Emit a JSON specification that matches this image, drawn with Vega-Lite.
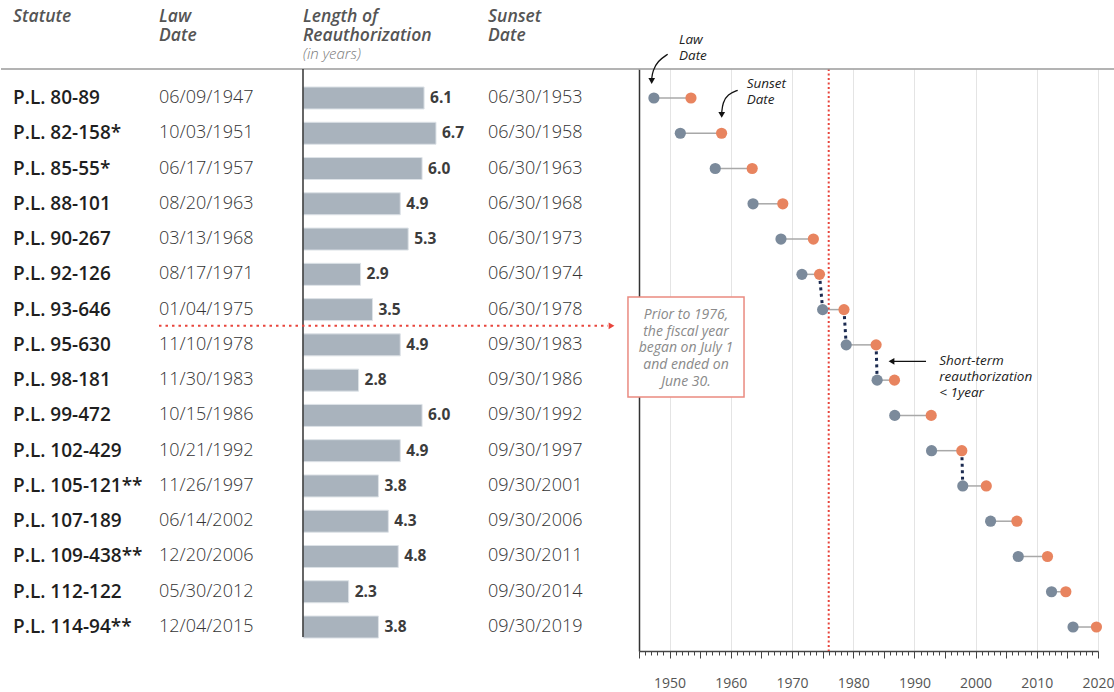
{
  "$schema": "https://vega.github.io/schema/vega-lite/v6.json",
  "padding": {"left": 0, "right": 0, "top": 8, "bottom": 0},
  "spacing": 0,
  "bounds": "flush",
  "config": {
    "view": {"stroke": null},
    "font": "Open Sans",
    "title": {"anchor": "start", "frame": "group", "fontSize": 17.5, "fontStyle": "italic", "fontWeight": 600, "color": "#555555", "lineHeight": 18.5, "offset": 6, "subtitleFontSize": 15, "subtitleFontStyle": "italic", "subtitleFontWeight": 300, "subtitleColor": "#7a7a7a", "subtitlePadding": 3, "font": "Open Sans", "subtitleFont": "Open Sans"}
  },
  "data": {
    "values": [
      {"row": 1, "statute": "P.L. 80-89", "law": "1947-06-09", "lawText": "06/09/1947", "len": 6.1, "sunset": "1953-06-30", "sunsetText": "06/30/1953"},
      {"row": 2, "statute": "P.L. 82-158*", "law": "1951-10-03", "lawText": "10/03/1951", "len": 6.7, "sunset": "1958-06-30", "sunsetText": "06/30/1958"},
      {"row": 3, "statute": "P.L. 85-55*", "law": "1957-06-17", "lawText": "06/17/1957", "len": 6.0, "sunset": "1963-06-30", "sunsetText": "06/30/1963"},
      {"row": 4, "statute": "P.L. 88-101", "law": "1963-08-20", "lawText": "08/20/1963", "len": 4.9, "sunset": "1968-06-30", "sunsetText": "06/30/1968"},
      {"row": 5, "statute": "P.L. 90-267", "law": "1968-03-13", "lawText": "03/13/1968", "len": 5.3, "sunset": "1973-06-30", "sunsetText": "06/30/1973"},
      {"row": 6, "statute": "P.L. 92-126", "law": "1971-08-17", "lawText": "08/17/1971", "len": 2.9, "sunset": "1974-06-30", "sunsetText": "06/30/1974"},
      {"row": 7, "statute": "P.L. 93-646", "law": "1975-01-04", "lawText": "01/04/1975", "len": 3.5, "sunset": "1978-06-30", "sunsetText": "06/30/1978"},
      {"row": 8, "statute": "P.L. 95-630", "law": "1978-11-10", "lawText": "11/10/1978", "len": 4.9, "sunset": "1983-09-30", "sunsetText": "09/30/1983"},
      {"row": 9, "statute": "P.L. 98-181", "law": "1983-11-30", "lawText": "11/30/1983", "len": 2.8, "sunset": "1986-09-30", "sunsetText": "09/30/1986"},
      {"row": 10, "statute": "P.L. 99-472", "law": "1986-10-15", "lawText": "10/15/1986", "len": 6.0, "sunset": "1992-09-30", "sunsetText": "09/30/1992"},
      {"row": 11, "statute": "P.L. 102-429", "law": "1992-10-21", "lawText": "10/21/1992", "len": 4.9, "sunset": "1997-09-30", "sunsetText": "09/30/1997"},
      {"row": 12, "statute": "P.L. 105-121**", "law": "1997-11-26", "lawText": "11/26/1997", "len": 3.8, "sunset": "2001-09-30", "sunsetText": "09/30/2001"},
      {"row": 13, "statute": "P.L. 107-189", "law": "2002-06-14", "lawText": "06/14/2002", "len": 4.3, "sunset": "2006-09-30", "sunsetText": "09/30/2006"},
      {"row": 14, "statute": "P.L. 109-438**", "law": "2006-12-20", "lawText": "12/20/2006", "len": 4.8, "sunset": "2011-09-30", "sunsetText": "09/30/2011"},
      {"row": 15, "statute": "P.L. 112-122", "law": "2012-05-30", "lawText": "05/30/2012", "len": 2.3, "sunset": "2014-09-30", "sunsetText": "09/30/2014"},
      {"row": 16, "statute": "P.L. 114-94**", "law": "2015-12-04", "lawText": "12/04/2015", "len": 3.8, "sunset": "2019-09-30", "sunsetText": "09/30/2019"}
    ],
    "format": {"parse": {"law": "date", "sunset": "date"}}
  },
  "hconcat": [
    {
      "width": 158, "height": 582,
      "title": {"text": ["Statute", " "], "subtitle": " ", "dx": 12},
      "layer": [
        {"data": {"values": [{}]}, "mark": {"type": "rule", "color": "#9a9a9a", "strokeWidth": 1.5},
         "encoding": {"y": {"datum": 0.178, "type": "quantitative", "scale": {"domain": [0.178, 16.68], "reverse": true, "nice": false, "zero": false, "padding": 0}, "axis": null}}},
        {"mark": {"type": "text", "align": "left", "baseline": "middle", "dx": 12, "fontSize": 19, "fontWeight": 600, "color": "#1f1f1f"},
         "encoding": {"x": {"value": 0}, "y": {"field": "row", "type": "quantitative", "scale": {"domain": [0.178, 16.68], "reverse": true, "nice": false, "zero": false, "padding": 0}, "axis": null}, "text": {"field": "statute", "type": "nominal"}}}
      ]
    },
    {
      "width": 144, "height": 582,
      "title": {"text": ["Law", "Date"], "subtitle": " "},
      "layer": [
        {"data": {"values": [{}]}, "mark": {"type": "rule", "color": "#9a9a9a", "strokeWidth": 1.5},
         "encoding": {"y": {"datum": 0.178, "type": "quantitative", "scale": {"domain": [0.178, 16.68], "reverse": true, "nice": false, "zero": false, "padding": 0}, "axis": null}}},
        {"mark": {"type": "text", "align": "left", "baseline": "middle", "fontSize": 18, "fontWeight": 300, "color": "#333333"},
         "encoding": {"x": {"value": 0}, "y": {"field": "row", "type": "quantitative", "scale": {"domain": [0.178, 16.68], "reverse": true, "nice": false, "zero": false, "padding": 0}, "axis": null}, "text": {"field": "lawText", "type": "nominal"}}}
      ]
    },
    {
      "width": 185, "height": 582,
      "title": {"text": ["Length of", "Reauthorization"], "subtitle": "(in years)"},
      "layer": [
        {"data": {"values": [{}]}, "mark": {"type": "rule", "color": "#9a9a9a", "strokeWidth": 1.5},
         "encoding": {"y": {"datum": 0.178, "type": "quantitative", "scale": {"domain": [0.178, 16.68], "reverse": true, "nice": false, "zero": false, "padding": 0}, "axis": null}}},
        {"mark": {"type": "bar", "orient": "horizontal", "height": 22, "color": "#a9b3bd", "stroke": "#dde2e7", "strokeWidth": 1},
         "encoding": {"x": {"field": "len", "type": "quantitative", "scale": {"domain": [0, 9.32], "nice": false, "zero": true, "padding": 0}, "axis": null}, "y": {"field": "row", "type": "quantitative", "scale": {"domain": [0.178, 16.68], "reverse": true, "nice": false, "zero": false, "padding": 0}, "axis": null}}},
        {"mark": {"type": "text", "align": "left", "baseline": "middle", "dx": 6, "fontSize": 15.5, "fontWeight": "bold", "color": "#3c3c3c"},
         "encoding": {"x": {"field": "len", "type": "quantitative"}, "y": {"field": "row", "type": "quantitative"}, "text": {"field": "len", "type": "quantitative", "format": ".1f"}}},
        {"data": {"values": [{}]}, "mark": {"type": "rule", "color": "#333333", "strokeWidth": 1.5},
         "encoding": {"x": {"datum": 0, "type": "quantitative"}, "y": {"datum": 0.178, "type": "quantitative"}, "y2": {"datum": 16.28}}}
      ]
    },
    {
      "width": 151, "height": 582,
      "title": {"text": ["Sunset", "Date"], "subtitle": " "},
      "layer": [
        {"data": {"values": [{}]}, "mark": {"type": "rule", "color": "#9a9a9a", "strokeWidth": 1.5},
         "encoding": {"y": {"datum": 0.178, "type": "quantitative", "scale": {"domain": [0.178, 16.68], "reverse": true, "nice": false, "zero": false, "padding": 0}, "axis": null}}},
        {"mark": {"type": "text", "align": "left", "baseline": "middle", "fontSize": 18, "fontWeight": 300, "color": "#333333"},
         "encoding": {"x": {"value": 0}, "y": {"field": "row", "type": "quantitative", "scale": {"domain": [0.178, 16.68], "reverse": true, "nice": false, "zero": false, "padding": 0}, "axis": null}, "text": {"field": "sunsetText", "type": "nominal"}}}
      ]
    },
    {
      "width": 459, "height": 582,
      "layer": [
        {"mark": {"type": "rule", "color": "#a8a8a8", "strokeWidth": 1.5},
         "encoding": {
           "x": {"field": "law", "type": "temporal",
                 "scale": {"type": "utc", "domain": [{"year": 1945, "utc": true}, {"year": 2020, "utc": true}], "nice": false, "padding": 0},
                 "axis": {"title": null, "domainColor": "#444444", "domainWidth": 1.5, "tickColor": "#444444", "tickWidth": 1,
                          "tickCount": {"interval": "year", "step": 1},
                          "tickSize": {"condition": {"test": "utcyear(datum.value) % 5 === 0", "value": 7}, "value": 4},
                          "labelExpr": "utcyear(datum.value) % 10 === 0 ? utcFormat(datum.value, '%Y') : ''",
                          "labelOverlap": false, "labelFlush": false, "labelFontSize": 14, "labelColor": "#555555", "labelPadding": 18, "labelFont": "Open Sans",
                          "grid": true, "gridColor": "#e4e4e4", "gridWidth": 1,
                          "gridOpacity": {"condition": {"test": "utcyear(datum.value) % 10 === 0 && utcyear(datum.value) > 1945", "value": 1}, "value": 0}}},
           "x2": {"field": "sunset"},
           "y": {"field": "row", "type": "quantitative", "scale": {"domain": [0.178, 16.68], "reverse": true, "nice": false, "zero": false, "padding": 0},
                 "axis": {"title": null, "domain": true, "domainColor": "#333333", "domainWidth": 1.5, "ticks": false, "labels": false, "grid": false}}
         }},
        {"data": {"values": [{}]}, "mark": {"type": "rule", "color": "#e8453c", "strokeWidth": 2, "strokeDash": [2, 2.5]},
         "encoding": {"x": {"datum": {"year": 1976, "utc": true}, "type": "temporal"}}},
        {"data": {"values": [
            {"t1": "1974-06-30", "r1": 6, "t2": "1975-01-04", "r2": 7},
            {"t1": "1978-06-30", "r1": 7, "t2": "1978-11-10", "r2": 8},
            {"t1": "1983-09-30", "r1": 8, "t2": "1983-11-30", "r2": 9},
            {"t1": "1997-09-30", "r1": 11, "t2": "1997-11-26", "r2": 12}
          ], "format": {"parse": {"t1": "date", "t2": "date"}}},
         "mark": {"type": "rule", "color": "#1b2a50", "strokeWidth": 3, "strokeDash": [3, 3.5], "strokeCap": "butt"},
         "encoding": {"x": {"field": "t1", "type": "temporal"}, "x2": {"field": "t2"}, "y": {"field": "r1", "type": "quantitative"}, "y2": {"field": "r2"}}},
        {"mark": {"type": "point", "filled": true, "size": 125, "opacity": 1, "color": "#7b8a9b"},
         "encoding": {"x": {"field": "law", "type": "temporal"}, "y": {"field": "row", "type": "quantitative"}}},
        {"mark": {"type": "point", "filled": true, "size": 125, "opacity": 1, "color": "#e8845f"},
         "encoding": {"x": {"field": "sunset", "type": "temporal"}, "y": {"field": "row", "type": "quantitative"}}},
        {"data": {"values": [{}]}, "mark": {"type": "rule", "color": "#9a9a9a", "strokeWidth": 1.5},
         "encoding": {"x": {"datum": {"year": 1945, "utc": true}, "type": "temporal"}, "x2": {"datum": {"year": 2022, "month": 10, "date": 12, "utc": true}}, "y": {"datum": 0.178, "type": "quantitative"}}},
        {"data": {"values": [{"t1": "1943-03-15", "t2": "1962-03-01", "r1": 6.64, "r2": 9.48}], "format": {"parse": {"t1": "date", "t2": "date"}}},
         "mark": {"type": "rect", "fill": "#ffffff", "stroke": "#ea8a80", "strokeWidth": 1.5},
         "encoding": {"x": {"field": "t1", "type": "temporal"}, "x2": {"field": "t2"}, "y": {"field": "r1", "type": "quantitative"}, "y2": {"field": "r2"}}},
        {"data": {"values": [{"t": "1952-09-05", "r": 7.153, "label": "Prior to 1976,\nthe fiscal year\nbegan on July 1\nand ended on\nJune 30."}], "format": {"parse": {"t": "date"}}},
         "mark": {"type": "text", "align": "center", "baseline": "middle", "lineBreak": "\n", "lineHeight": 16.75, "fontSize": 14, "fontStyle": "italic", "fontWeight": "normal", "color": "#8a8a8a"},
         "encoding": {"x": {"field": "t", "type": "temporal"}, "y": {"field": "r", "type": "quantitative"}, "text": {"field": "label", "type": "nominal"}}},
        {"data": {"values": [
            {"t": "1951-07-15", "r": -0.644, "label": "Law\nDate"},
            {"t": "1962-08-07", "r": 0.603, "label": "Sunset\nDate"},
            {"t": "1994-01-25", "r": 8.457, "label": "Short-term\nreauthorization\n<  1year"}
          ], "format": {"parse": {"t": "date"}}},
         "mark": {"type": "text", "align": "left", "baseline": "middle", "lineBreak": "\n", "lineHeight": 16, "fontSize": 13.5, "fontStyle": "italic", "color": "#222222"},
         "encoding": {"x": {"field": "t", "type": "temporal"}, "y": {"field": "r", "type": "quantitative"}, "text": {"field": "label", "type": "nominal"}}},
        {"data": {"values": [
            {"id": "law", "o": 1, "t": "1949-09-09", "r": -0.239},
            {"id": "law", "o": 2, "t": "1948-01-23", "r": -0.049},
            {"id": "law", "o": 3, "t": "1947-03-28", "r": 0.235},
            {"id": "law", "o": 4, "t": "1947-01-30", "r": 0.456},
            {"id": "sunset", "o": 1, "t": "1961-02-17", "r": 0.782},
            {"id": "sunset", "o": 2, "t": "1959-06-28", "r": 0.895},
            {"id": "sunset", "o": 3, "t": "1958-09-05", "r": 1.133},
            {"id": "sunset", "o": 4, "t": "1958-07-08", "r": 1.417},
            {"id": "short", "o": 1, "t": "1991-11-25", "r": 8.466},
            {"id": "short", "o": 2, "t": "1986-09-01", "r": 8.466}
          ], "format": {"parse": {"t": "date"}}},
         "mark": {"type": "line", "color": "#111111", "strokeWidth": 1.3, "interpolate": "basis"},
         "encoding": {"x": {"field": "t", "type": "temporal"}, "y": {"field": "r", "type": "quantitative"}, "detail": {"field": "id", "type": "nominal"}, "order": {"field": "o", "type": "quantitative"}}},
        {"data": {"values": [
            {"t": "1947-01-30", "r": 0.518, "shape": "triangle-down"},
            {"t": "1958-07-08", "r": 1.48, "shape": "triangle-down"},
            {"t": "1986-04-05", "r": 8.466, "shape": "triangle-left"}
          ], "format": {"parse": {"t": "date"}}},
         "mark": {"type": "point", "filled": true, "size": 45, "opacity": 1, "color": "#111111"},
         "encoding": {"x": {"field": "t", "type": "temporal"}, "y": {"field": "r", "type": "quantitative"}, "shape": {"field": "shape", "type": "nominal", "scale": null}}},
        {"data": {"values": [{"t1": "1866-07-27", "t2": "1939-12-05", "r": 7.46}], "format": {"parse": {"t1": "date", "t2": "date"}}},
         "mark": {"type": "rule", "color": "#e8453c", "strokeWidth": 2, "strokeDash": [2.5, 4]},
         "encoding": {"x": {"field": "t1", "type": "temporal"}, "x2": {"field": "t2"}, "y": {"field": "r", "type": "quantitative"}}},
        {"data": {"values": [{"t": "1940-07-05", "r": 7.46}], "format": {"parse": {"t": "date"}}},
         "mark": {"type": "point", "filled": true, "size": 45, "opacity": 1, "color": "#e8453c", "shape": "triangle-right"},
         "encoding": {"x": {"field": "t", "type": "temporal"}, "y": {"field": "r", "type": "quantitative"}}}
      ]
    }
  ]
}
